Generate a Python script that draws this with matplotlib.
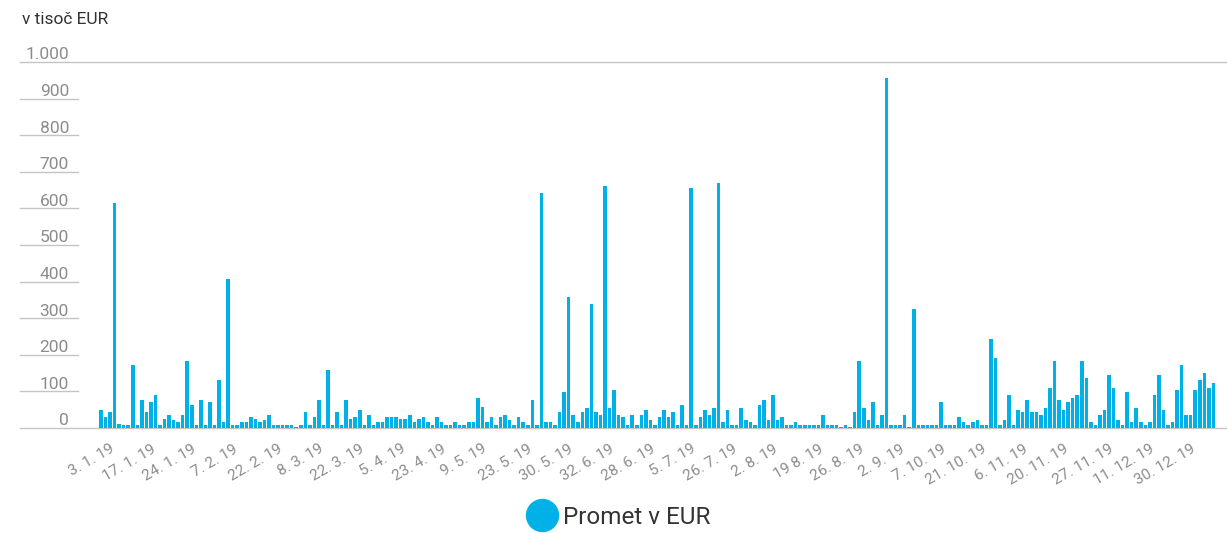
import matplotlib
matplotlib.use("Agg")
import matplotlib.pyplot as plt
from matplotlib.lines import Line2D
import matplotlib.transforms as mtransforms

# ---- data (thousand EUR) ----
values_part1 = [50, 30, 44, 614, 10, 9, 9, 171, 9, 77, 44, 70, 90, 9, 24, 36, 22, 16, 36, 184,
                63, 9, 77, 9, 70, 9, 131, 16, 406, 9,
                9, 16, 16, 30, 24, 16, 23, 36, 9, 9, 9, 9, 9, 4, 9, 44, 9, 30, 77, 9,
                158, 9, 44, 9, 77, 24, 30, 50, 9, 36, 9]
values_part2 = [16, 16, 30, 30, 30, 24, 24, 36, 16, 24, 30, 16, 9, 30, 16, 9, 9, 16, 9, 9,
                16, 16, 83, 57, 16, 30, 9, 30, 36, 23, 9,
                30, 16, 9, 77, 9, 641, 16, 16, 9, 44, 97, 359, 36, 16, 44, 56, 339, 44, 36,
                661, 56, 104, 36, 30, 9, 36, 9, 36, 50, 23, 9]
values_part3 = [30, 50, 30, 44, 9, 63, 9, 655, 9, 30, 50, 36, 56, 669, 16, 50, 9, 9, 56, 23,
                16, 9, 63, 77, 23, 90, 23, 30, 9, 9, 16,
                9, 9, 9, 9, 9, 36, 9, 9, 9, 3, 9, 3, 44, 184, 56, 23, 70, 9, 36, 957,
                9, 9, 9, 36, 3, 326, 9, 9, 9, 9]
values_part4 = [9, 70, 9, 9, 9, 30, 16, 9, 16, 23, 9, 9, 244, 190, 9, 23, 90, 9, 50, 44,
                77, 44, 44, 36, 56, 110, 184, 77, 50, 70, 83,
                90, 184, 137, 16, 9, 36, 50, 144, 110, 23, 9, 97, 16, 56, 16, 9, 16, 90, 144,
                50, 9, 16, 104, 171, 36, 36, 104, 131, 150, 110, 124]
values = values_part1 + values_part2 + values_part3 + values_part4

tick_labels = ["3. 1. 19", "17. 1. 19", "24. 1. 19", "7. 2. 19", "22. 2. 19", "8. 3. 19",
               "22. 3. 19", "5. 4. 19", "23. 4. 19", "9. 5. 19", "23. 5. 19", "30. 5. 19",
               "32. 6. 19", "28. 6. 19", "5. 7. 19", "26. 7. 19", "2. 8. 19", "19 8. 19",
               "26. 8. 19", "2. 9. 19", "7. 10. 19", "21. 10. 19", "6. 11. 19", "20. 11. 19",
               "27. 11. 19", "11. 12. 19", "30. 12. 19"]
y_ticks = [0, 100, 200, 300, 400, 500, 600, 700, 800, 900, 1000]
y_tick_labels = ["0", "100", "200", "300", "400", "500", "600", "700", "800", "900", "1.000"]
series_name = "Promet v EUR"
unit_label = "v tisoč EUR"

BLUE = "#00b1e8"
GRAY = "#8c8c8c"
W, H = 1227, 533

plt.rcParams['font.family'] = ['Roboto', 'DejaVu Sans']

fig = plt.figure(figsize=(W / 100, H / 100), dpi=100)
ax = fig.add_axes([98.7 / W, 1 - 428 / H, (1215.7 - 98.7) / W, (428 - 62) / H])

n = len(values)
xs = list(range(n))
ax.bar(xs, values, width=0.78, color=BLUE, linewidth=0, zorder=3)
ax.set_xlim(-0.5, n - 0.5)
ax.set_ylim(0, 1000)

for s in ax.spines.values():
    s.set_visible(False)

# y axis: labels on the left with short lines underneath
ax.set_yticks([])
trans = mtransforms.blended_transform_factory(fig.transFigure, ax.transData)
for v, lab in zip(y_ticks, y_tick_labels):
    x_end = 1227 / W if v in (0, 1000) else 78 / W
    ax.plot([20 / W, x_end], [v, v], transform=trans, color="#c4c4c4",
            lw=1.0, clip_on=False, zorder=2)
    ax.text(69 / W, v + 7, lab, transform=trans, ha="right", va="baseline",
            fontsize=12.5, color=GRAY)

# x axis labels (one label roughly every 9 bars)
step = 9.15
first = 2
ax.set_xticks([int(round(first + i * step)) for i in range(len(tick_labels))])
ax.set_xticklabels(tick_labels, rotation=30, ha="right", rotation_mode="anchor",
                   fontsize=11, color=GRAY)
ax.tick_params(axis="x", length=0, pad=10)

fig.text(22 / W, 1 - 20 / H, unit_label, ha="left", va="center", fontsize=12.5, color="#333333")

handle = Line2D([], [], marker="o", linestyle="", markersize=23, color=BLUE)
fig.legend([handle], [series_name], loc="center", bbox_to_anchor=(619 / W, 1 - 517 / H),
           frameon=False, fontsize=17.5, handletextpad=0.25, labelcolor="#333333",
           borderaxespad=0, handlelength=1.2)

fig.savefig("out.png", dpi=100)
